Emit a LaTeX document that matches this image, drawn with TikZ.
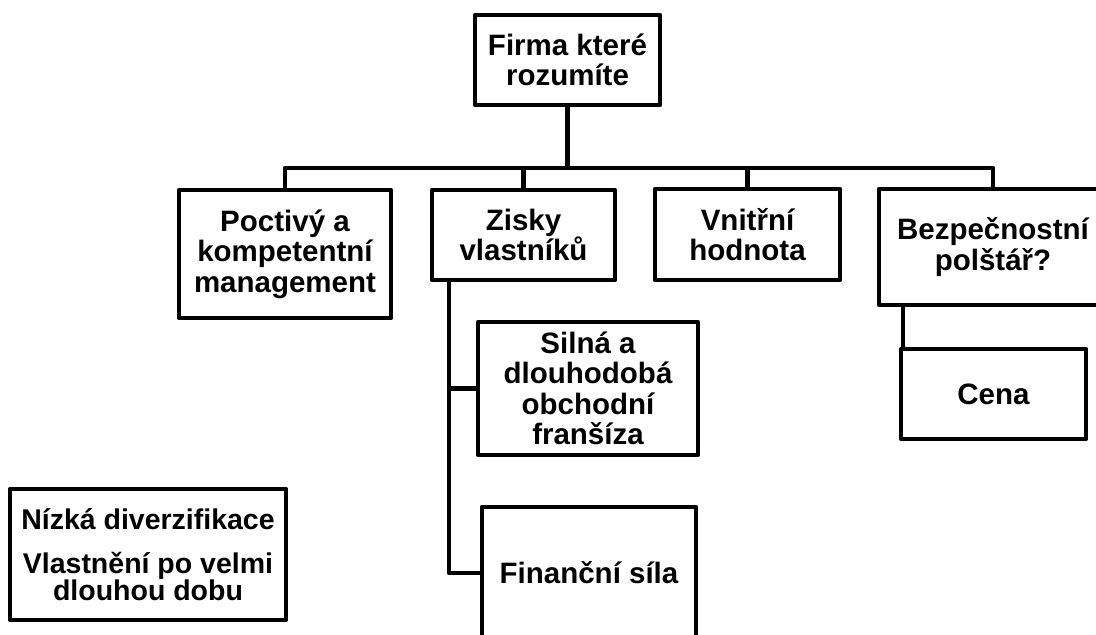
\documentclass[tikz,border=0pt]{standalone}
\usepackage{fontspec}
\setmainfont{Liberation Sans}
\begin{document}
\begin{tikzpicture}[x=1pt,y=-1pt,
  box/.style={draw=black, line width=4.5pt, line join=round, fill=white, align=center,
    inner sep=0pt, font=\bfseries\fontsize{29.5}{30.5}\selectfont},
  conn/.style={draw=black, line width=4.5pt, line join=round}]
\useasboundingbox (0,0) rectangle (1096,635);
\clip (0,0) rectangle (1096,635);
\fill[white] (0,0) rectangle (1096,635);

\node[box, minimum width=185pt, minimum height=90pt] (firma) at (567.5,60) {Firma které\\rozumíte};
\node[box, minimum width=212pt, minimum height=128pt] (poctivy) at (285,254) {Poctivý a\\kompetentní\\management};
\node[box, minimum width=183pt, minimum height=90pt] (zisky) at (523.5,235) {Zisky\\vlastníků};
\node[box, minimum width=185pt, minimum height=91pt] (vnitrni) at (747.5,234.5) {Vnitřní\\hodnota};
\node[box, minimum width=228pt, minimum height=116pt] (bezp) at (993,247) {Bezpečnostní\\polštář?};
\node[box, minimum width=185pt, minimum height=90pt] (cena) at (993.5,394) {Cena};
\node[box, minimum width=220pt, minimum height=133pt] (silna) at (588,388.5) {Silná a\\dlouhodobá\\obchodní\\franšíza};
\node[box, minimum width=214pt, minimum height=132pt] (financni) at (589,573) {Finanční síla};
\node[box, minimum width=276pt, minimum height=131pt, font=\bfseries\fontsize{28.5}{27}\selectfont] (nizka) at (148,554.5) {Nízká diverzifikace\\[17pt]Vlastnění po velmi\\dlouhou dobu};

\coordinate (busy) at (0,168);

% top bus
\draw[conn] (firma.south) -- (firma.south |- busy);
\draw[conn] (poctivy.north) |- (bezp.north |- busy) -- (bezp.north);
\draw[conn] (zisky.north) -- (zisky.north |- busy);
\draw[conn] (vnitrni.north) -- (vnitrni.north |- busy);

% Zisky branches
\coordinate (zt) at ([xshift=-74.5pt]zisky.south);
\draw[conn] (zt) |- (financni.west);
\draw[conn] (zt |- silna.west) -- (silna.west);

% Bezpecnostni to Cena
\coordinate (bt) at ([xshift=-90pt]bezp.south);
\draw[conn] (bt) -- (bt |- cena.north);
\end{tikzpicture}
\end{document}
